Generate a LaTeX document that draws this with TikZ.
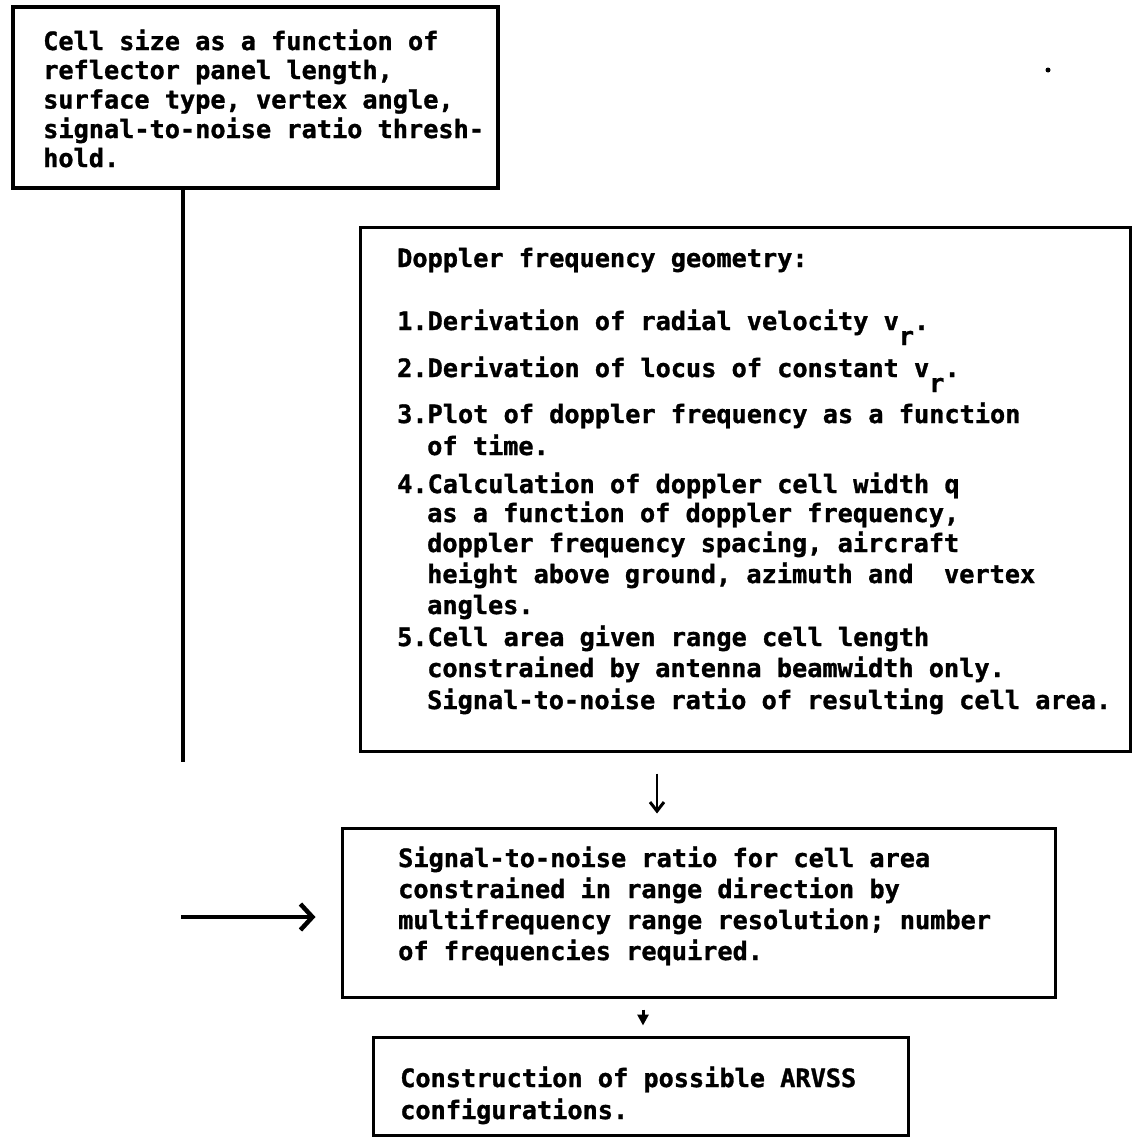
\documentclass[tikz,border=0pt]{standalone}
\usepackage{fontspec}
\newfontfamily\tw{DejaVu Sans Mono}[BoldFeatures={FakeBold=1.2}]
\usetikzlibrary{arrows.meta}
\begin{document}
\begin{tikzpicture}[x=1pt,y=-1pt,
  boxn/.style={draw, line width=3pt, inner sep=0pt},
  txt/.style={anchor=base west, inner sep=0pt, font=\tw\bfseries\fontsize{25.25pt}{30pt}\selectfont},
  conn/.style={line width=3.5pt},
  barb/.style={line width=4.5pt, -{Straight Barb[length=12pt,width=26pt,line width=4.5pt]}},
  thinarr/.style={line width=2.5pt, -{Straight Barb[length=9pt,width=14pt,line width=3pt]}},
  fillarr/.style={line width=3pt, -{Triangle[length=11pt,width=11pt]}}
]
\useasboundingbox (0,0) rectangle (1136,1143);

% boxes
\node[boxn, line width=3.5pt, minimum width=485pt, minimum height=181pt] (box1) at (255.5,97.5) {};
\node[boxn, minimum width=770pt, minimum height=524pt] (box2) at (745,489) {};
\node[boxn, minimum width=713pt, minimum height=169pt] (box3) at (698.5,912.5) {};
\node[boxn, minimum width=535pt, minimum height=98pt] (box4) at (640.5,1086) {};

% box 1 text
\node[txt] (t11) at (43,50) {Cell size as a function of};
\node[txt] (t12) at (43,79) {reflector panel length,};
\node[txt] (t13) at (43,108.5) {surface type, vertex angle,};
\node[txt] (t14) at (43,138) {signal-to-noise ratio thresh-};
\node[txt] (t15) at (43,167) {hold.};

% box 2 text
\node[txt] (t20) at (397,267) {Doppler frequency geometry:};
\node[txt] (t21) at (397,330) {1.Derivation of radial velocity v\raisebox{-15pt}{r}.};
\node[txt] (t22) at (397,377) {2.Derivation of locus of constant v\raisebox{-15pt}{r}.};
\node[txt] (t23) at (397,423) {3.Plot of doppler frequency as a function};
\node[txt] (t24) at (427,455) {of time.};
\node[txt] (t25) at (397,493) {4.Calculation of doppler cell width q};
\node[txt] (t26) at (427,522) {as a function of doppler frequency,};
\node[txt] (t27) at (427,552) {doppler frequency spacing, aircraft};
\node[txt] (t28) at (427,583) {height above ground, azimuth and\phantom{x} vertex};
\node[txt] (t29) at (427,614) {angles.};
\node[txt] (t2a) at (397,646) {5.Cell area given range cell length};
\node[txt] (t2b) at (427,677) {constrained by antenna beamwidth only.};
\node[txt] (t2c) at (427,709) {Signal-to-noise ratio of resulting cell area.};

% box 3 text
\node[txt] (t31) at (398,867) {Signal-to-noise ratio for cell area};
\node[txt] (t32) at (398,898) {constrained in range direction by};
\node[txt] (t33) at (398,929) {multifrequency range resolution; number};
\node[txt] (t34) at (398,960) {of frequencies required.};

% box 4 text
\node[txt] (t41) at (400,1087) {Construction of possible ARVSS};
\node[txt] (t42) at (400,1119) {configurations.};

% connectors
\coordinate (vend) at (183,762);
\draw[conn] (box1.south -| vend) -- (vend);

\coordinate (lstart) at (181,917);
\draw[barb, shorten >=25pt] (lstart) -- (lstart -| box3.west);

\coordinate (a1) at (657,0);
\draw[thinarr, shorten <=21pt, shorten >=13pt] (box2.south -| a1) -- (box3.north -| a1);

\coordinate (a2) at (643,0);
\draw[fillarr, shorten <=11pt, shorten >=10pt] (box3.south -| a2) -- (box4.north -| a2);

% speck
\fill (1048,70) circle (2.5pt);
\end{tikzpicture}
\end{document}
